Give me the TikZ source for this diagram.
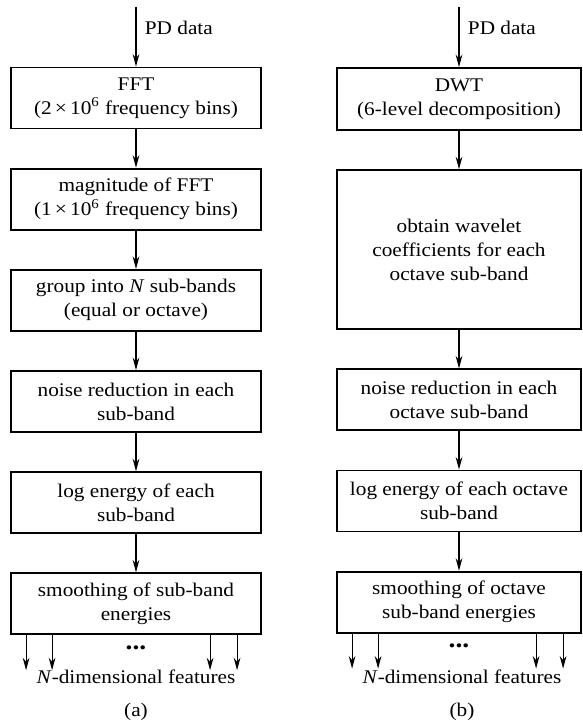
\documentclass[tikz,border=0pt]{standalone}
\usepackage{fontspec}
\setmainfont[FakeStretch=1.1]{Liberation Serif}
\usetikzlibrary{arrows.meta,positioning,calc}

\begin{document}
\begin{tikzpicture}[x=0.6pt,y=-0.6pt,font=\fontsize{11.6}{14.4}\selectfont,
  stage/.style={draw,line width=1.1pt,minimum height=36.6pt,minimum width=150pt,
                align=center,inner sep=2pt},
  arr/.style={-{Stealth[length=7.5pt,width=4pt]},line width=0.7pt},
  note/.style={inner sep=1pt,align=center}]
  \useasboundingbox (0,0) rectangle (582,723);

  % (a) FFT chain
  \node[stage] (fft) at (136,98) {FFT\\(2\,×\,10\textsuperscript{6} frequency bins)};
  \node[stage,below=23pt of fft] (mag) {magnitude of FFT\\(1\,×\,10\textsuperscript{6} frequency bins)};
  \node[stage,below=23pt of mag] (grpA) {group into \textit{N} sub-bands\\(equal or octave)};
  \node[stage,below=23pt of grpA] (noiseA) {noise reduction in each\\sub-band};
  \node[stage,below=23pt of noiseA] (logA) {log energy of each\\sub-band};
  \node[stage,below=23pt of logA] (smA) {smoothing of sub-band\\energies};
  \coordinate[above=36pt of fft] (inA);

  % (b) DWT chain
  \node[stage,minimum width=146.4pt,minimum height=37.2pt] (dwt) at (459,99)
    {DWT\\(6-level decomposition)};
  \node[stage,minimum width=146.4pt,minimum height=95.4pt,below=23pt of dwt] (coef)
    {obtain wavelet\\coefficients for each\\octave sub-band};
  \node[stage,minimum width=146.4pt,below=23pt of coef] (noiseB) {noise reduction in each\\octave sub-band};
  \node[stage,minimum width=146.4pt,below=23pt of noiseB] (logB) {log energy of each octave\\sub-band};
  \node[stage,minimum width=146.4pt,below=23pt of logB] (smB) {smoothing of octave\\sub-band energies};
  \coordinate[above=36pt of dwt] (inB);

  \draw[arr] (inA) -- node[note,right=4pt,pos=0.35]{PD data} (fft);
  \draw[arr] (fft) -- (mag);
  \draw[arr] (mag) -- (grpA);
  \draw[arr] (grpA) -- (noiseA);
  \draw[arr] (noiseA) -- (logA);
  \draw[arr] (logA) -- (smA);

  \draw[arr] (inB) -- node[note,right=4pt,pos=0.35]{PD data} (dwt);
  \draw[arr] (dwt) -- (coef);
  \draw[arr] (coef) -- (noiseB);
  \draw[arr] (noiseB) -- (logB);
  \draw[arr] (logB) -- (smB);

  % feature outputs
  \foreach \dx in {9.6,25.2,120,136.2} {
    \draw[arr] ([xshift=\dx pt]smA.south west) -- ++(0,-21pt);
    \draw[arr] ([xshift=\dx pt]smB.south west) -- ++(0,-21pt);
  }
  \node[note,font=\fontsize{15}{15}\selectfont\bfseries,below=5pt of smA] (dotsA) {...};
  \node[note,font=\fontsize{15}{15}\selectfont\bfseries,below=5pt of smB] (dotsB) {...};

  \node[note] (featA) at (136,677) {\textit{N}-dimensional features};
  \node[note] (featB) at (462,677) {\textit{N}-dimensional features};
  \node[note] (capA) at (136,712) {(a)};
  \node[note] (capB) at (462,712) {(b)};
\end{tikzpicture}
\end{document}
